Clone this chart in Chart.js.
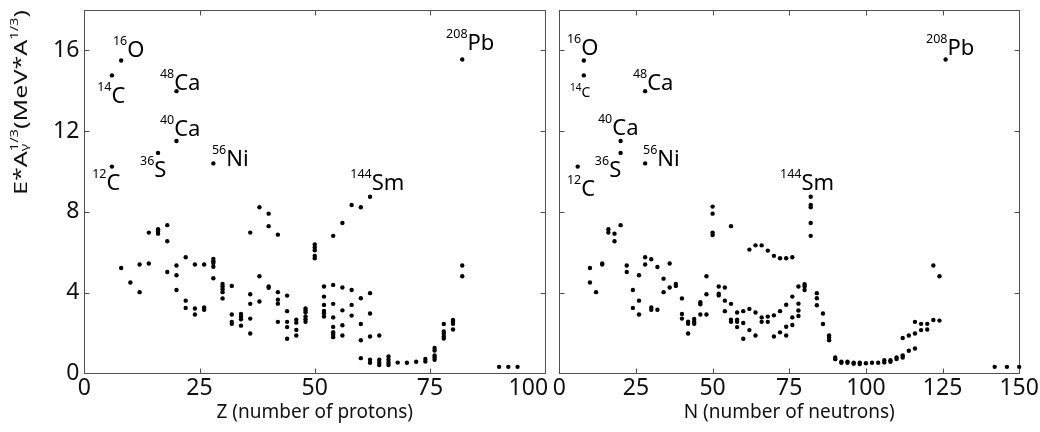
<!DOCTYPE html>
<html><head><meta charset="utf-8">
<script src="https://cdn.jsdelivr.net/npm/chart.js@4.4.1/dist/chart.umd.min.js"></script>
<style>
html,body{margin:0;padding:0;background:#fff;width:1040px;height:432px;overflow:hidden}
#l{position:absolute;left:0;top:0;width:552px;height:432px}
#r{position:absolute;left:552px;top:0;width:488px;height:432px}
canvas{display:block}
</style></head><body>
<div id="l"><canvas id="cl" width="552" height="432"></canvas></div>
<div id="r"><canvas id="cr" width="488" height="432"></canvas></div>
<script>
// ---------------- data ----------------
const protonNumbers = [6,8,10,12,14,16,18,20,22,24,26,28,30,32,34,36,38,40,42,44,46,48,50,52,54,56,58,60,62,64,66,68,70,72,74,76,78,80,82,90,92,94];
const protonEnergies = [
  [14.76,10.24],[15.5,5.22],[4.5],[5.39,4.02],[6.97,5.44],[10.92,7.14,7.03,6.92],
  [7.34,6.54,5.02],[13.98,11.51,5.34,4.86,4.13],[5.75,3.6,3.24],[5.39,3.21,2.91],
  [5.39,3.26,3.15],[10.4,5.67,5.55,5.46,5.28,4.71],[4.43,4.3,4.17,4.02,3.71],
  [4.33,2.91,2.55,2.45],[2.94,2.81,2.68,2.36],[6.97,3.92,3.44,2.71,1.97],
  [8.23,4.81,3.56],[7.91,7.29,4.3,4.24],[6.87,4.02,3.65,3.45,2.55],
  [3.85,3.08,2.55,2.29,1.71],[2.65,2.51,2.15,1.87],[3.21,3.11,3.01,2.81,2.68,2.55],
  [6.38,6.23,6.1,5.82,5.7],[4.3,3.8,3.39,3.09,2.98,2.81],
  [6.81,4.38,3.44,2.77,2.3,2.04,1.92,1.79],[7.45,4.25,3.12,2.38,1.87],
  [8.34,4.13,3.39,2.86],[8.23,3.72,2.44,1.64,0.75],[8.75,3.97,2.96,1.82,0.67,0.52],
  [1.87,0.67,0.52,0.41],[0.83,0.67,0.52,0.41],[0.53],[0.52],[0.57],[0.71,0.58],
  [1.25,1.13,0.88,0.78,0.67],[2.44,2.07,1.96,1.82,1.72],[2.64,2.55,2.45,2.17],
  [15.55,5.34,4.81],[0.32],[0.32],[0.32]
];
const neutronNumbers = [6,8,10,12,14,16,18,20,22,24,26,28,30,32,34,36,38,40,42,44,46,48,50,52,54,56,58,60,62,64,66,68,70,72,74,76,78,80,82,84,86,88,90,92,94,96,98,100,102,104,106,108,110,112,114,116,118,120,122,124,126,142,146,150];
const neutronEnergies = [
  [10.24],[15.5,14.76],[5.22,4.5],[4.02],[5.44,5.39],[7.14,6.97],[6.92,6.54],
  [11.51,10.92,7.34],[5.34,5.02],[4.13,3.24],[4.86,3.6,2.91],[13.98,10.4,5.75,5.39],
  [5.65,3.26,3.15],[5.27,3.15],[4.69,4.02],[5.44,4.25],[4.43,4.33],[3.71,2.94,2.71],
  [2.56,2.45,1.97],[2.69,2.56,2.45],[3.52,3.42,2.91],[4.81,3.92,2.91],
  [8.26,7.91,6.97,6.85],[4.3,3.94,3.86],[4.25,3.6,3.08],[7.29,3.44,2.65,2.55],
  [3.01,2.65,2.55,2.29],[3.08,2.49,1.71],[6.13,3.19,2.14],[6.34,3.01,1.87],
  [6.34,2.77,2.55],[6.08,2.81,2.55],[5.82,2.87,1.82],[5.7,3.08,2.03],
  [5.7,3.4,2.31,1.87],[5.75,3.8,2.77,2.39],[4.3,3.45,3.11,2.84],[4.41,4.3,4.13],
  [8.75,8.34,8.23,7.45,6.81],[3.97,3.72,3.37],[2.96,2.44],[1.87,1.77,1.64],
  [0.78,0.7],[0.58,0.52],[0.57,0.52],[0.52,0.47],[0.52,0.46],[0.5],[0.52],[0.52],
  [0.65,0.54],[0.65,0.57],[0.78,0.71],[1.75,0.89,0.78],[1.87,1.12],[2.55,1.97,1.23],
  [2.45,2.14],[2.45,2.17],[5.34,2.64],[4.81,2.61],[15.55],[0.32],[0.32],[0.32]
];
const energyTicks = [0,4,8,12,16];
const protonTicks = [0,25,50,75,100];
const neutronTicks = [0,25,50,75,100,125,150];

// isotope annotations: mass number, element, anchor (data units of text start / baseline)
const protonIsotopes = [
  {mass:'16',el:'O',x:6.2,y:15.67},{mass:'14',el:'C',x:2.8,y:13.39},
  {mass:'48',el:'Ca',x:16.4,y:14.04},{mass:'40',el:'Ca',x:16.4,y:11.76},
  {mass:'36',el:'S',x:12.1,y:9.73},{mass:'12',el:'C',x:1.7,y:9.08},
  {mass:'56',el:'Ni',x:27.7,y:10.27},{mass:'144',el:'Sm',x:57.7,y:9.08},
  {mass:'208',el:'Pb',x:78.5,y:16.02}
];
const neutronIsotopes = [
  {mass:'16',el:'O',x:2.5,y:15.77},{mass:'14',el:'C',x:3.5,y:13.69,small:true},
  {mass:'48',el:'Ca',x:24.0,y:14.04},{mass:'40',el:'Ca',x:12.6,y:11.81},
  {mass:'36',el:'S',x:11.6,y:9.73},{mass:'56',el:'Ni',x:27.3,y:10.27},
  {mass:'12',el:'C',x:2.5,y:8.78},{mass:'144',el:'Sm',x:72.0,y:9.08},
  {mass:'208',el:'Pb',x:119.6,y:15.77}
];

// ---------------- rendering ----------------
const FONT = "'Noto Sans', 'Open Sans', sans-serif";
Chart.defaults.font.family = FONT;
Chart.defaults.color = '#111';

function toPoints(xs, es) {
  const pts = [];
  xs.forEach((x, i) => es[i].forEach(e => pts.push({x: x, y: e})));
  return pts;
}

const framePlugin = {
  id: 'frame',
  beforeDatasetsDraw(chart) {
    const {ctx, chartArea: a, scales: {x, y}} = chart;
    const L = Math.floor(a.left) + 0.5, R = Math.floor(a.right) + 0.5;
    const T = Math.floor(a.top) + 0.5, B = Math.floor(a.bottom) + 0.5;
    ctx.save();
    ctx.strokeStyle = '#505050';
    ctx.lineWidth = 1;
    ctx.strokeRect(L, T, R - L, B - T);
    ctx.beginPath();
    const len = 5;
    x.ticks.forEach(t => {
      const p = Math.round(x.getPixelForValue(t.value)) + 0.5;
      if (p <= L + 1 || p >= R - 1) return;
      ctx.moveTo(p, B); ctx.lineTo(p, B - len);
      ctx.moveTo(p, T); ctx.lineTo(p, T + len);
    });
    y.ticks.forEach(t => {
      const p = Math.round(y.getPixelForValue(t.value)) + 0.5;
      if (p <= T + 1 || p >= B - 1) return;
      ctx.moveTo(L, p); ctx.lineTo(L + len, p);
      ctx.moveTo(R, p); ctx.lineTo(R - len, p);
    });
    ctx.stroke();
    ctx.restore();
  }
};

const isotopePlugin = {
  id: 'isotopes',
  afterDatasetsDraw(chart, args, opts) {
    const {ctx, scales: {x, y}} = chart;
    ctx.save();
    ctx.fillStyle = '#000';
    ctx.textAlign = 'left';
    ctx.textBaseline = 'alphabetic';
    (opts.items || []).forEach(it => {
      const px = x.getPixelForValue(it.x), py = y.getPixelForValue(it.y);
      const main = it.small ? 14 : 22, sup = it.small ? 10 : 12.5, rise = it.small ? 5.5 : 12;
      ctx.font = sup + 'px ' + FONT;
      ctx.fillText(it.mass, px, py - rise);
      const w = ctx.measureText(it.mass).width;
      ctx.font = main + 'px ' + FONT;
      ctx.fillText(it.el, px + w, py);
    });
    ctx.restore();
  }
};

const yTitlePlugin = {
  id: 'ytitle',
  afterDraw(chart) {
    const ctx = chart.ctx;
    const mainF = '24px ' + FONT, smallF = '14px ' + FONT;
    const segs = [
      {t: 'E*A', f: mainF, dy: 0},
      {stack: [{t: '1/3', f: smallF, dy: -13}, {t: '\u03b3', f: smallF, dy: 2}]},
      {t: '(MeV*A', f: mainF, dy: 0},
      {t: '1/3', f: smallF, dy: -13},
      {t: ')', f: mainF, dy: 0}
    ];
    ctx.save();
    let total = 0;
    segs.forEach(s => {
      if (s.stack) {
        s.w = Math.max(...s.stack.map(q => { ctx.font = q.f; return ctx.measureText(q.t).width; }));
      } else { ctx.font = s.f; s.w = ctx.measureText(s.t).width; }
      total += s.w;
    });
    const along = 185 / total;
    ctx.translate(27, 195);
    ctx.rotate(-Math.PI / 2);
    ctx.scale(along, 0.72);
    ctx.fillStyle = '#111';
    ctx.textBaseline = 'alphabetic';
    ctx.textAlign = 'left';
    let cx = 0;
    segs.forEach(s => {
      const parts = s.stack || [s];
      parts.forEach(q => { ctx.font = q.f; ctx.fillText(q.t, cx, q.dy); });
      cx += s.w;
    });
    ctx.restore();
  }
};

function makeChart(canvasId, cfg) {
  const yAxis = {
    type: 'linear', min: 0, max: 18,
    afterBuildTicks: s => { s.ticks = energyTicks.map(v => ({value: v})); },
    grid: {display: false, drawTicks: false},
    border: {display: false},
    ticks: {display: cfg.yLabels, font: {size: 23, lineHeight: 1}, color: '#111', padding: 5},
    afterFit: s => { s.width = cfg.yWidth; s.paddingTop = 0; s.paddingBottom = 0; }
  };
  const xAxis = {
    type: 'linear', min: 0, max: cfg.xMax,
    afterBuildTicks: s => { s.ticks = cfg.xTicks.map(v => ({value: v})); },
    grid: {display: false, drawTicks: false},
    border: {display: false},
    ticks: {font: {size: 23, lineHeight: 1}, color: '#111', padding: 4, autoSkip: false,
            maxRotation: 0, minRotation: 0, callback: cfg.xCallback},
    title: {display: true, text: cfg.xTitle, font: {size: 19, lineHeight: 1.2}, color: '#111',
            padding: {top: 0, bottom: 8}},
    afterFit: s => { s.height = 432 - 373.3; s.paddingLeft = 0; s.paddingRight = 0; }
  };
  return new Chart(document.getElementById(canvasId), {
    type: 'scatter',
    data: {datasets: [{
      data: cfg.points,
      pointRadius: 2.2, pointHoverRadius: 2.2,
      pointBackgroundColor: '#000', pointBorderWidth: 0, borderWidth: 0,
      showLine: false, clip: false
    }]},
    options: {
      responsive: false, animation: false, devicePixelRatio: 1,
      events: [],
      layout: {autoPadding: false, padding: {top: 10, left: 0, right: cfg.padRight, bottom: 0}},
      scales: {x: xAxis, y: yAxis},
      plugins: {legend: {display: false}, tooltip: {enabled: false}, isotopes: {items: cfg.isotopes}}
    },
    plugins: cfg.extraPlugins
  });
}

makeChart('cl', {
  points: toPoints(protonNumbers, protonEnergies),
  xMax: 100, xTicks: protonTicks, xTitle: 'Z (number of protons)',
  xCallback: v => v === 100 ? '100' + ' '.repeat(5) + '\u2009' : String(v),
  yLabels: true, yWidth: 84.3, padRight: 552 - 545.2,
  isotopes: protonIsotopes,
  extraPlugins: [framePlugin, isotopePlugin, yTitlePlugin]
});
makeChart('cr', {
  points: toPoints(neutronNumbers, neutronEnergies),
  xMax: 150, xTicks: neutronTicks, xTitle: 'N (number of neutrons)',
  xCallback: v => String(v),
  yLabels: false, yWidth: 7.3, padRight: 488 - 467.2,
  isotopes: neutronIsotopes,
  extraPlugins: [framePlugin, isotopePlugin]
});
</script>
</body></html>
